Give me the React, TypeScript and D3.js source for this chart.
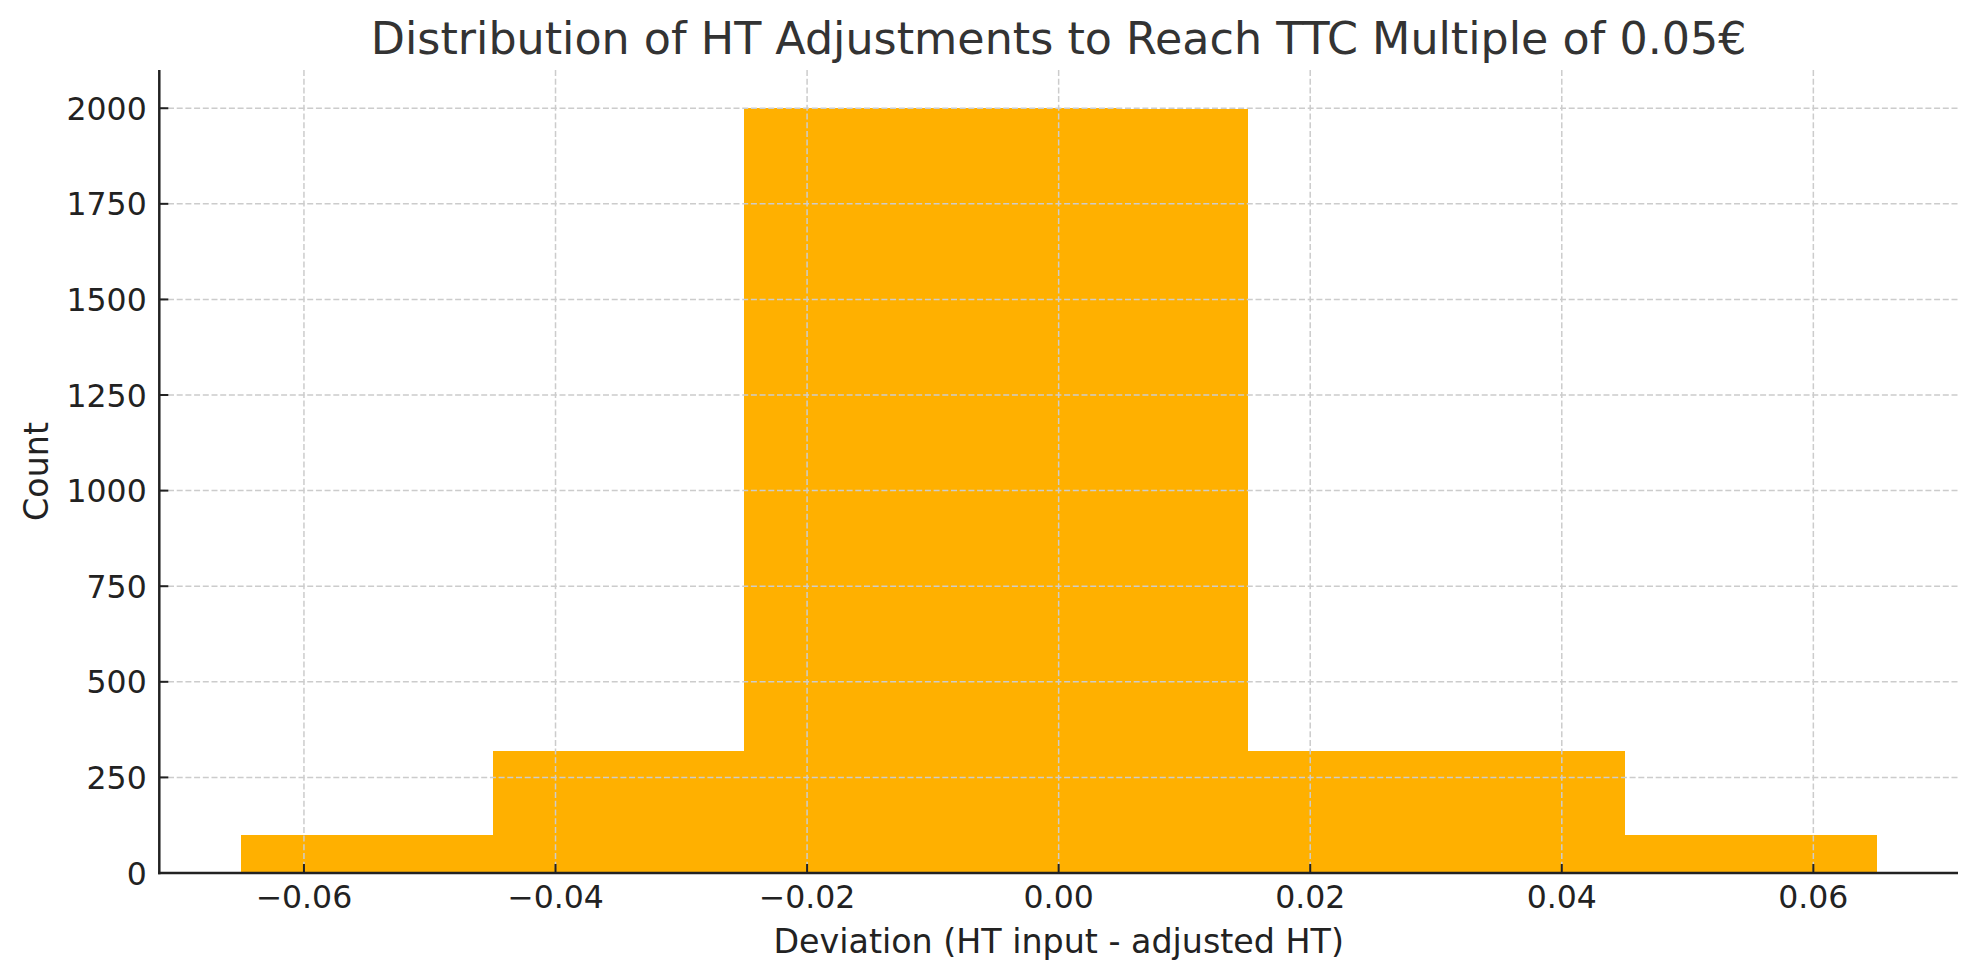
import React, { useEffect } from 'react'
import * as d3 from "d3";

// histogram bins (edges) and counts
const binEdges = [-0.065, -0.055, -0.045, -0.035, -0.025, -0.015, -0.005, 0.005, 0.015, 0.025, 0.035, 0.045, 0.055, 0.065]
const counts = [100, 100, 320, 320, 2000, 2000, 2000, 1997, 320, 320, 320, 100, 100]

const xTicks = [-0.06, -0.04, -0.02, 0, 0.02, 0.04, 0.06]
const yTicks = [0, 250, 500, 750, 1000, 1250, 1500, 1750, 2000]

const title = "Distribution of HT Adjustments to Reach TTC Multiple of 0.05€"
const xLabel = "Deviation (HT input - adjusted HT)"
const yLabel = "Count"

const width = 1980
const height = 980
const margin = { top: 70, right: 22, bottom: 107, left: 159.3 }
const font = "'DejaVu Sans', sans-serif"
const ink = "#222222"

export default function App() {
  useEffect(() => {
    document.body.style.margin = "0"
  }, [])

  const boundedWidth = width - margin.left - margin.right
  const boundedHeight = height - margin.top - margin.bottom

  const xScale = d3.scaleLinear()
    .domain([-0.0715, 0.0715])
    .range([margin.left, margin.left + boundedWidth])

  const yScale = d3.scaleLinear()
    .domain([0, 2100])
    .range([margin.top + boundedHeight, margin.top])

  const bins = counts.map((c, i) => ({ x0: binEdges[i], x1: binEdges[i + 1], count: c }))
  const fmt = (v: number) => d3.format(".2f")(v).replace("-", "\u2212")

  const xLeft = margin.left
  const xRight = margin.left + boundedWidth
  const yBottom = margin.top + boundedHeight
  const yTop = margin.top

  return (
    <svg width={width} height={height} style={{ display: "block", background: "#fff" }}>
      {/* bars */}
      <g shapeRendering="crispEdges">
        {bins.map((b, i) => (
          <rect
            key={i}
            x={xScale(b.x0)}
            y={yScale(b.count)}
            width={xScale(b.x1) - xScale(b.x0) + 0.5}
            height={yScale(0) - yScale(b.count)}
            fill="#ffb000"
          />
        ))}
      </g>

      {/* grid, drawn above the bars like the original */}
      <g stroke="#cccccc" strokeWidth={1.5} strokeDasharray="6 2.7">
        {xTicks.map(t => (
          <line key={"gx" + t} x1={xScale(t)} x2={xScale(t)} y1={yTop} y2={yBottom} />
        ))}
        {yTicks.map(t => (
          <line key={"gy" + t} x1={xLeft} x2={xRight} y1={yScale(t)} y2={yScale(t)} />
        ))}
      </g>

      {/* ticks (inward) */}
      <g stroke={ink} strokeWidth={2}>
        {xTicks.map(t => (
          <line key={"tx" + t} x1={xScale(t)} x2={xScale(t)} y1={yBottom} y2={yBottom - 9} />
        ))}
        {yTicks.map(t => (
          <line key={"ty" + t} x1={xLeft} x2={xLeft + 9} y1={yScale(t)} y2={yScale(t)} />
        ))}
      </g>

      {/* spines */}
      <line x1={xLeft} x2={xLeft} y1={yTop} y2={yBottom + 1.25} stroke={ink} strokeWidth={2.5} />
      <line x1={xLeft - 1.25} x2={xRight} y1={yBottom} y2={yBottom} stroke={ink} strokeWidth={2.5} />

      {/* tick labels */}
      <g fontFamily={font} fontSize={31.5} fill={ink}>
        {xTicks.map(t => (
          <text key={"lx" + t} x={xScale(t)} y={908.3} textAnchor="middle">{fmt(t)}</text>
        ))}
        {yTicks.map(t => (
          <text key={"ly" + t} x={146.7} y={yScale(t) + 11.5} textAnchor="end">{t}</text>
        ))}
      </g>

      {/* labels and title */}
      <text x={(xLeft + xRight) / 2} y={952.7} textAnchor="middle" fontFamily={font} fontSize={33.3} fill={ink}>
        {xLabel}
      </text>
      <text
        transform={`translate(48,${(yTop + yBottom) / 2}) rotate(-90)`}
        textAnchor="middle" fontFamily={font} fontSize={33.3} fill={ink}
      >
        {yLabel}
      </text>
      <text x={(xLeft + xRight) / 2} y={54.3} textAnchor="middle" fontFamily={font} fontSize={44.4} fill="#333333">
        {title}
      </text>
    </svg>
  )
}
